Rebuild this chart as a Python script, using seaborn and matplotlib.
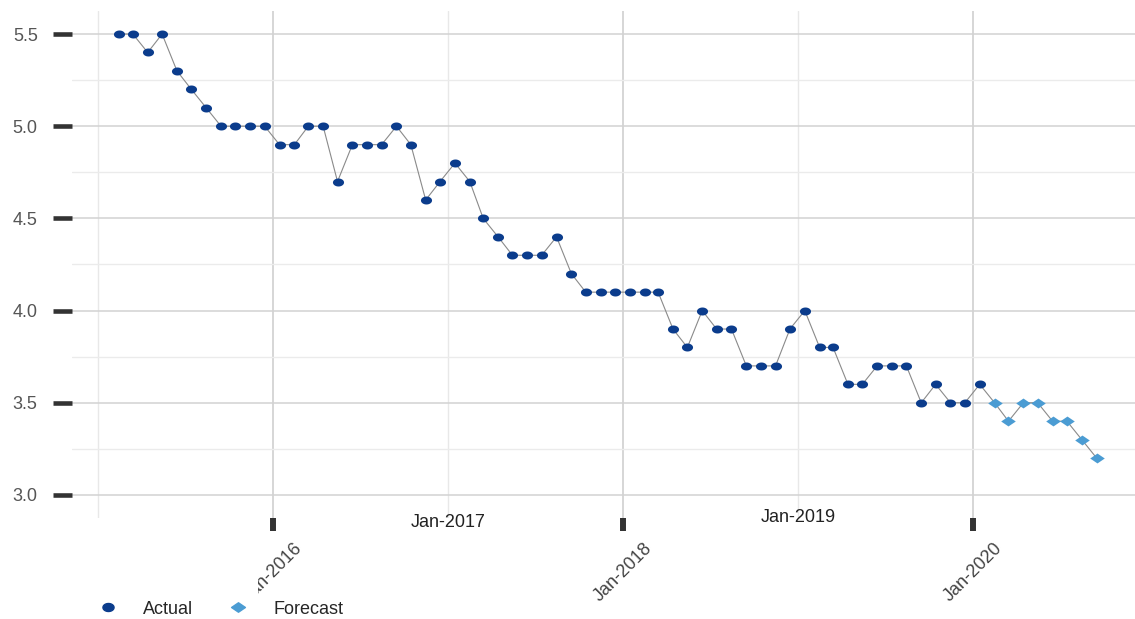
import numpy as np
import pandas as pd
import matplotlib
matplotlib.use("Agg")
import matplotlib.pyplot as plt
from matplotlib.path import Path
from matplotlib.lines import Line2D
from matplotlib.transforms import Bbox
import seaborn as sns

# ---- data ----
actual_start = "2015-02-01"
actual_values = [5.5, 5.5, 5.4, 5.5, 5.3, 5.2, 5.1, 5.0, 5.0, 5.0, 5.0,
                 4.9, 4.9, 5.0, 5.0, 4.7, 4.9, 4.9, 4.9, 5.0, 4.9, 4.6, 4.7,
                 4.8, 4.7, 4.5, 4.4, 4.3, 4.3, 4.3, 4.4, 4.2, 4.1, 4.1, 4.1,
                 4.1, 4.1, 4.1, 3.9, 3.8, 4.0, 3.9, 3.9, 3.7, 3.7, 3.7, 3.9,
                 4.0, 3.8, 3.8, 3.6, 3.6, 3.7, 3.7, 3.7, 3.5, 3.6, 3.5, 3.5,
                 3.6]
forecast_start = "2020-02-01"
forecast_values = [3.5, 3.4, 3.5, 3.5, 3.4, 3.4, 3.3, 3.2]

tick_years = ["2015", "2016", "2017", "2018", "2019", "2020"]
marked_years = ["2016", "2018", "2020"]
y_major = [3.0, 3.5, 4.0, 4.5, 5.0, 5.5]
y_minor = [3.25, 3.75, 4.25, 4.75, 5.25]

COL_ACTUAL = "#0b3c8c"
COL_FORECAST = "#4b9cd3"

# points sit mid-month
act_dates = pd.date_range(actual_start, periods=len(actual_values), freq="MS") + pd.Timedelta(days=14)
fc_dates = pd.date_range(forecast_start, periods=len(forecast_values), freq="MS") + pd.Timedelta(days=14)
df = pd.DataFrame({
    "date": list(act_dates) + list(fc_dates),
    "value": actual_values + forecast_values,
    "kind": ["Actual"] * len(actual_values) + ["Forecast"] * len(forecast_values),
})

# flattened markers (the reference is stretched sideways)
t = np.linspace(0, 2 * np.pi, 40)
ellipse = Path(np.column_stack([np.cos(t), 0.72 * np.sin(t)]), closed=True)
diamond = Path([(-1, 0), (0, 0.68), (1, 0), (0, -0.68), (-1, 0)], closed=True)

sns.set_style("white")
plt.rcParams["font.family"] = ["Liberation Sans", "DejaVu Sans"]

fig = plt.figure(figsize=(11.35, 6.19), dpi=100)
ax = fig.add_axes([72 / 1135, 101 / 619, 1 - 72 / 1135, 507 / 619])

sns.lineplot(data=df, x="date", y="value", color="#8a8a8a", linewidth=0.8, ax=ax, zorder=2)
sns.scatterplot(data=df[df.kind == "Actual"], x="date", y="value", marker=ellipse,
                s=64, color=COL_ACTUAL, linewidth=0, ax=ax, zorder=3)
sns.scatterplot(data=df[df.kind == "Forecast"], x="date", y="value", marker=diamond,
                s=110, color=COL_FORECAST, linewidth=0, ax=ax, zorder=3)

ax.set_xlim(pd.Timestamp("2014-11-08"), pd.Timestamp("2020-12-04"))
ax.set_ylim(2.875, 5.625)
for s in ax.spines.values():
    s.set_visible(False)
ax.set_axisbelow(True)

# y axis
ax.set_yticks(y_major)
ax.set_yticks(y_minor, minor=True)
ax.set_yticklabels([f"{v:.1f}" for v in y_major])
ax.tick_params(axis="y", which="major", direction="out", length=13.7, width=3.3,
               color="#333333", pad=11, labelsize=13, labelcolor="#555555", left=True)
ax.tick_params(axis="y", which="minor", length=0)
ax.grid(axis="y", which="major", color="#d2d2d2", linewidth=1.1)
ax.grid(axis="y", which="minor", color="#ebebeb", linewidth=1.0)

# x axis: marks only on every other year
marked = [pd.Timestamp(f"{y}-01-01") for y in marked_years]
unmarked = [pd.Timestamp(f"{y}-01-01") for y in tick_years if y not in marked_years]
ax.set_xticks(marked)
ax.set_xticks(unmarked, minor=True)
ax.set_xticklabels([""] * len(marked))
ax.tick_params(axis="x", which="major", direction="out", length=9, width=4.3,
               color="#333333", bottom=True)
ax.tick_params(axis="x", which="minor", length=0)
ax.grid(axis="x", which="major", color="#cfcfcf", linewidth=1.2)
ax.grid(axis="x", which="minor", color="#e8e8e8", linewidth=1.0)
ax.set_xlabel("")
ax.set_ylabel("")

trans = ax.get_xaxis_transform()
for y in tick_years[1:]:
    d = pd.Timestamp(f"{y}-01-01")
    if y in marked_years:
        txt = ax.text(d, -0.108, f"Jan-{y}", transform=trans, rotation=45,
                      ha="center", va="center", fontsize=13, color="#444444")
        if y == "2016":
            txt.set_clip_box(Bbox.from_extents(258, 0, 420, 619))
            txt.set_clip_on(True)
        else:
            txt.set_clip_on(False)
    else:
        off = -0.008 if y == "2017" else 0.0
        ax.text(d, off, f"Jan-{y}", transform=trans, ha="center", va="center",
                fontsize=13, color="#222222", clip_on=False)

handles = [
    Line2D([], [], linestyle="none", marker=ellipse, markersize=8, color=COL_ACTUAL),
    Line2D([], [], linestyle="none", marker=diamond, markersize=10, color=COL_FORECAST),
]
fig.legend(handles, ["Actual", "Forecast"], loc="center left",
           bbox_to_anchor=(99 / 1135, 10 / 619), ncol=2, frameon=False,
           fontsize=13, handlelength=1.0, handletextpad=1.45, columnspacing=2.0,
           borderpad=0, borderaxespad=0)

fig.savefig("out.png", dpi=100)
